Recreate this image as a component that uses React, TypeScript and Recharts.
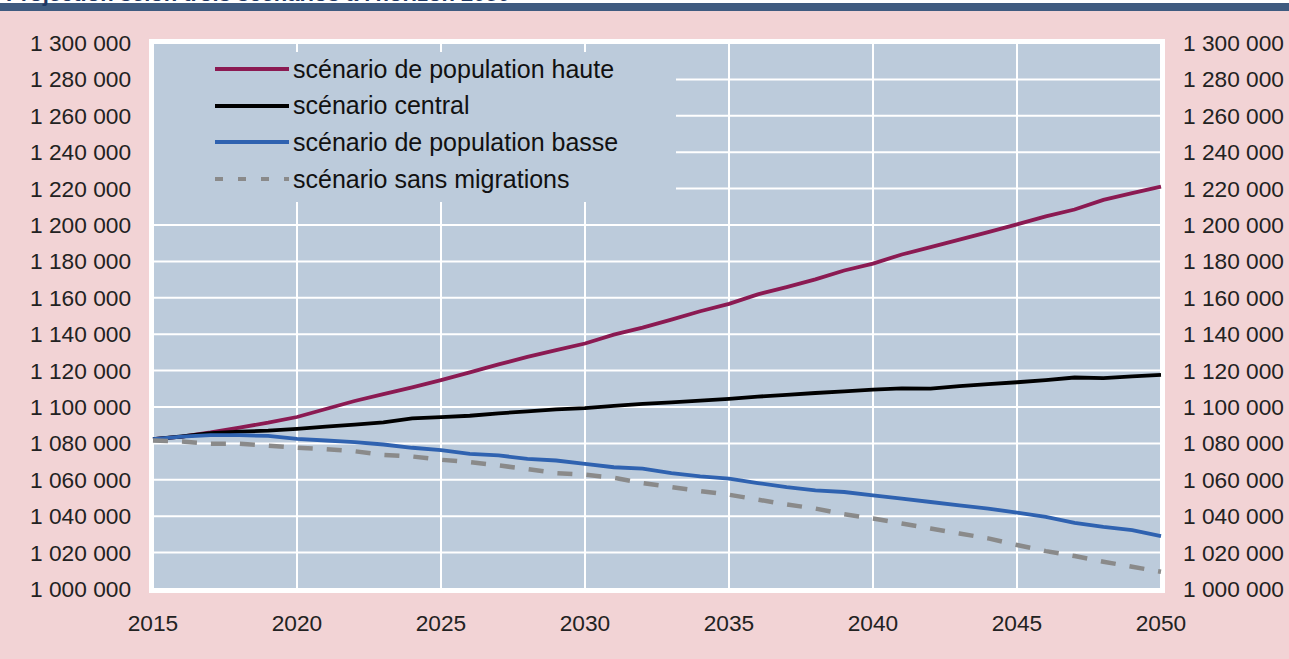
import React from "react";
import { LineChart, Line, XAxis, YAxis, CartesianGrid } from "recharts";

const YEARS = [
  2015, 2016, 2017, 2018, 2019, 2020, 2021, 2022, 2023, 2024, 2025, 2026,
  2027, 2028, 2029, 2030, 2031, 2032, 2033, 2034, 2035, 2036, 2037, 2038,
  2039, 2040, 2041, 2042, 2043, 2044, 2045, 2046, 2047, 2048, 2049, 2050,
];

const HAUTE = [
  1082300, 1083700, 1086000, 1088700, 1091400, 1094500, 1098900, 1103300,
  1107100, 1110800, 1114800, 1119000, 1123400, 1127500, 1131200, 1134900,
  1139800, 1143600, 1148000, 1152600, 1156700, 1161900, 1165900, 1170100,
  1175000, 1178800, 1183800, 1187800, 1192000, 1196100, 1200300, 1204700,
  1208500, 1213800, 1217500, 1221100,
];

const CENTRAL = [
  1082300, 1083800, 1085600, 1086500, 1087000, 1088000, 1089200, 1090300,
  1091600, 1093800, 1094400, 1095200, 1096500, 1097600, 1098700, 1099400,
  1100600, 1101700, 1102500, 1103500, 1104500, 1105700, 1106700, 1107700,
  1108600, 1109600, 1110200, 1110100, 1111500, 1112600, 1113600, 1114800,
  1116200, 1115900, 1116800, 1117700,
];

const BASSE = [
  1082300, 1083700, 1084500, 1084500, 1084100, 1082500, 1081600, 1080700,
  1079400, 1077600, 1076300, 1074300, 1073400, 1071500, 1070600, 1068800,
  1066900, 1066100, 1063700, 1061900, 1060600, 1058200, 1056000, 1054200,
  1053300, 1051500, 1049600, 1047800, 1046000, 1044200, 1042000, 1039600,
  1036300, 1034100, 1032300, 1029000,
];

const SANS_MIGRATIONS = [
  1081600, 1081000, 1079800, 1079800, 1078800, 1077600, 1076800, 1075700,
  1073700, 1072800, 1071000, 1069700, 1067900, 1065900, 1063700, 1062800,
  1061100, 1058200, 1056000, 1053800, 1051800, 1049100, 1046500, 1044200,
  1041100, 1038700, 1036000, 1033200, 1030500, 1027800, 1024200, 1020800,
  1018100, 1015000, 1012200, 1009500,
];

const X_TICKS = [2015, 2020, 2025, 2030, 2035, 2040, 2045, 2050];
const Y_TICKS = [
  1000000, 1020000, 1040000, 1060000, 1080000, 1100000, 1120000, 1140000,
  1160000, 1180000, 1200000, 1220000, 1240000, 1260000, 1280000, 1300000,
];

// axis: the dashed series sits on the right axis (same domain) so it draws its ticks
const SERIES = [
  { key: "haute", name: "scénario de population haute", color: "#8b1a52", dash: undefined, legendDash: undefined, width: 3.8, axis: "left" },
  { key: "central", name: "scénario central", color: "#000000", dash: undefined, legendDash: undefined, width: 3.8, axis: "left" },
  { key: "basse", name: "scénario de population basse", color: "#2f62b0", dash: undefined, legendDash: undefined, width: 3.8, axis: "left" },
  { key: "sans", name: "scénario sans migrations", color: "#8a8a8a", dash: "15 14", legendDash: "8 15", width: 4.5, axis: "right" },
];

const data = YEARS.map((year, i) => ({
  year,
  haute: HAUTE[i],
  central: CENTRAL[i],
  basse: BASSE[i],
  sans: SANS_MIGRATIONS[i],
}));

const PINK = "#f2d3d5";
const PLOT_BG = "#bccbdb";
const FONT = "'Liberation Sans', Arial, sans-serif";
const DOMAIN: [number, number] = [1000000, 1300000];

const fmt = (v: number) => String(v).replace(/\B(?=(\d{3})+(?!\d))/g, " ");

const tickStyle = { fill: "#222", fontSize: 22.7, fontFamily: FONT };

const LegendBox = () => (
  <div
    style={{
      position: "absolute",
      left: 154,
      top: 52,
      width: 522,
      height: 150,
      background: PLOT_BG,
      fontFamily: FONT,
      fontSize: 25,
      color: "#111",
    }}
  >
    {SERIES.map((s, i) => (
      <div
        key={s.key}
        style={{
          position: "absolute",
          left: 61,
          top: 2 + i * 36.7,
          height: 30,
          display: "flex",
          alignItems: "center",
          whiteSpace: "nowrap",
        }}
      >
        <svg width={76} height={10} style={{ marginRight: 2 }}>
          <line
            x1={0}
            y1={5}
            x2={74}
            y2={5}
            stroke={s.color}
            strokeWidth={4}
            strokeDasharray={s.legendDash}
          />
        </svg>
        <span>{s.name}</span>
      </div>
    ))}
  </div>
);

export default function App() {
  return (
    <div
      style={{
        position: "absolute",
        left: 0,
        top: 0,
        width: 1289,
        height: 659,
        background: PINK,
        overflow: "hidden",
      }}
    >
      {/* cut-off title band at the very top, as in the source image */}
      <div style={{ position: "absolute", left: 0, top: 0, width: 1289, height: 3, background: "#ffffff" }} />
      <div style={{ position: "absolute", left: 0, top: 3, width: 1289, height: 8, background: "#3f5b80" }} />
      <div
        style={{
          position: "absolute",
          left: 6,
          top: -17,
          lineHeight: "22px",
          fontFamily: FONT,
          fontWeight: "bold",
          fontSize: 22,
          color: "#1f3864",
          whiteSpace: "nowrap",
        }}
      >
        Projection selon trois scénarios à l'horizon 2050
      </div>
      {/* white frame around the plot area */}
      <div
        style={{
          position: "absolute",
          left: 149,
          top: 39,
          width: 1016,
          height: 554,
          background: "#ffffff",
        }}
      />
      <div style={{ position: "absolute", left: 0, top: 0 }}>
        <LineChart
          width={1289}
          height={659}
          data={data}
          margin={{ top: 43, right: 0, bottom: 0, left: 0 }}
        >
          <CartesianGrid
            yAxisId="left"
            fill={PLOT_BG}
            stroke="#ffffff"
            strokeWidth={2}
          />
          <XAxis
            dataKey="year"
            type="number"
            domain={[2015, 2050]}
            ticks={X_TICKS}
            height={70}
            axisLine={false}
            tickLine={false}
            tickSize={0}
            tickMargin={26}
            tick={tickStyle}
          />
          <YAxis
            yAxisId="left"
            orientation="left"
            domain={DOMAIN}
            ticks={Y_TICKS}
            interval={0}
            width={153}
            axisLine={false}
            tickLine={false}
            tickSize={0}
            tickMargin={22}
            tickFormatter={fmt}
            tick={tickStyle}
          />
          <YAxis
            yAxisId="right"
            orientation="right"
            domain={DOMAIN}
            ticks={Y_TICKS}
            interval={0}
            width={128}
            axisLine={false}
            tickLine={false}
            tickSize={0}
            tickMargin={22}
            tickFormatter={fmt}
            tick={{ ...tickStyle, textAnchor: "start" }}
          />
          {SERIES.map((s) => (
            <Line
              key={s.key}
              yAxisId={s.axis}
              type="linear"
              dataKey={s.key}
              name={s.name}
              stroke={s.color}
              strokeWidth={s.width}
              strokeDasharray={s.dash}
              dot={false}
              activeDot={false}
              isAnimationActive={false}
            />
          ))}
        </LineChart>
      </div>
      <LegendBox />
    </div>
  );
}
